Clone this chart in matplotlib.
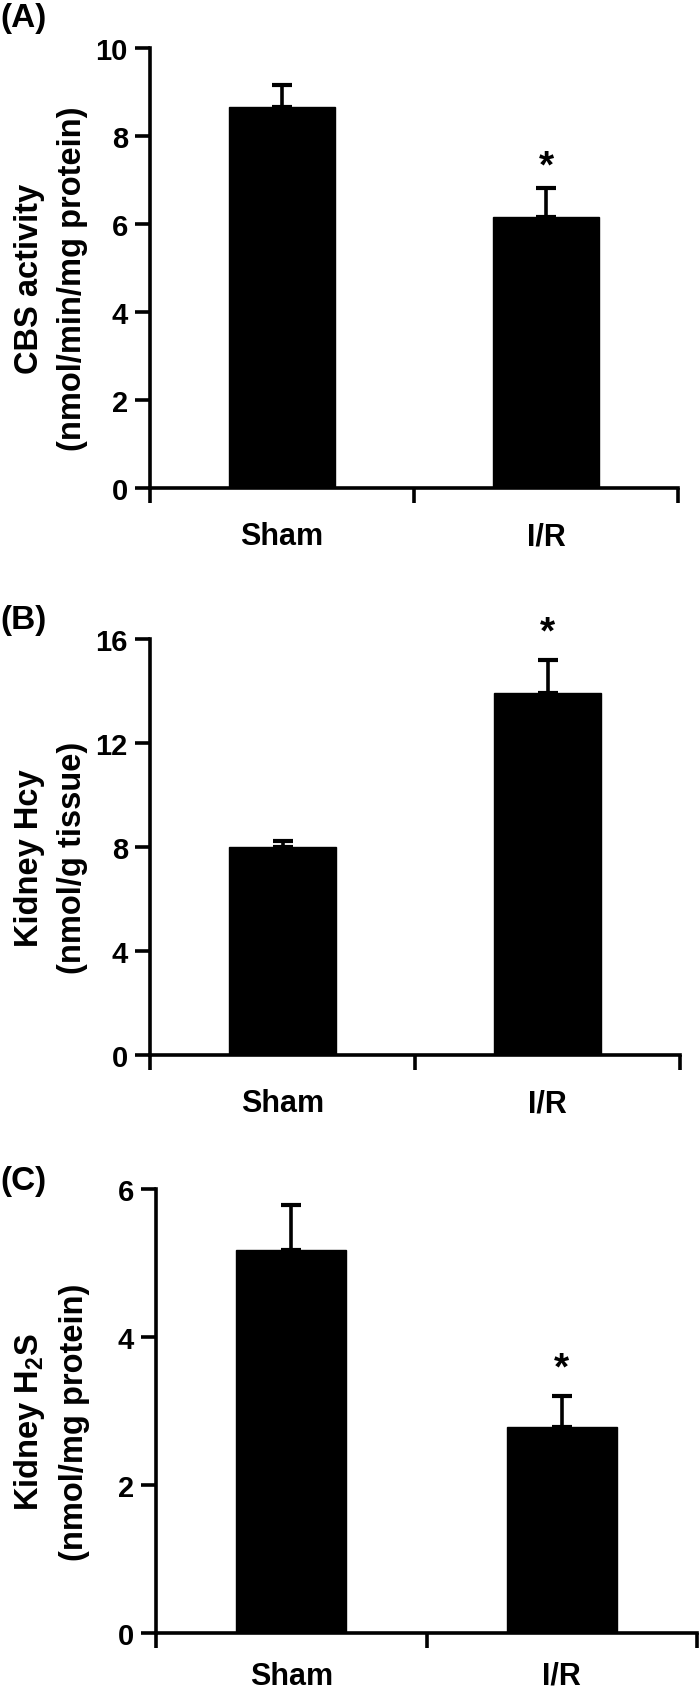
import matplotlib
matplotlib.use("Agg")
import matplotlib.pyplot as plt

plt.rcParams["font.family"] = ["Liberation Sans", "DejaVu Sans"]
plt.rcParams["font.weight"] = "bold"
plt.rcParams["mathtext.fontset"] = "custom"
plt.rcParams["mathtext.rm"] = "Liberation Sans:bold"
plt.rcParams["mathtext.it"] = "Liberation Sans:bold"
plt.rcParams["mathtext.bf"] = "Liberation Sans:bold"

groups = ["Sham", "I/R"]

cbs_mean = [8.66, 6.17]
cbs_sem = [0.50, 0.64]

hcy_mean = [8.01, 13.93]
hcy_sem = [0.24, 1.25]

h2s_mean = [5.18, 2.78]
h2s_sem = [0.61, 0.42]

panels = [
    # label, mean, sem, ymax, yticks, ylabel, star y
    ("(A)", cbs_mean, cbs_sem, 10, [0, 2, 4, 6, 8, 10],
     "CBS activity\n(nmol/min/mg protein)", 7.62),
    ("(B)", hcy_mean, hcy_sem, 16, [0, 4, 8, 12, 16],
     "Kidney Hcy\n(nmol/g tissue)", 16.77),
    ("(C)", h2s_mean, h2s_sem, 6, [0, 2, 4, 6],
     "Kidney H$_2$S\n(nmol/mg protein)", 3.76),
]

# axes boxes in pixels: left, right, y of top tick, y of zero
boxes = [(150, 678, 49, 489), (150, 680, 640, 1056), (156, 697, 1190, 1634)]
label_y = [18, 620, 1182]
xpad = [24, 24, 20]

W, H = 700, 1690
fig = plt.figure(figsize=(W / 100, H / 100), dpi=100)

for (plabel, mean, sem, ymax, yticks, ylabel, star_y), (l, r, t, b), ly, xp in zip(
        panels, boxes, label_y, xpad):
    ax = fig.add_axes([l / W, 1 - b / H, (r - l) / W, (b - t) / H])
    x = [0.5, 1.5]
    ax.bar(x, mean, width=0.405, color="black", edgecolor="black", linewidth=1)
    ax.errorbar(x, mean, yerr=[[0, 0], sem], fmt="none", ecolor="black",
                elinewidth=2.6, capsize=7, capthick=3)
    # asterisk: baseline shifted so the glyph is centred on star_y
    ax.annotate("*", xy=(1.5, star_y), xytext=(0, -0.6 * 28),
                textcoords="offset points", ha="center", va="baseline",
                fontsize=28, fontweight="bold", annotation_clip=False)

    ax.set_xlim(0, 2)
    ax.set_ylim(0, ymax)
    ax.set_yticks(yticks)
    ax.set_xticks([0, 1, 2])
    ax.set_xticklabels([])
    ax.set_xticks(x, minor=True)
    ax.set_xticklabels(groups, minor=True)
    ax.tick_params(axis="x", which="minor", length=0, pad=xp, labelsize=22)
    ax.tick_params(axis="both", which="major", direction="out", length=11,
                   width=2.6, labelsize=21, pad=5)
    for side in ["top", "right"]:
        ax.spines[side].set_visible(False)
    for side in ["left", "bottom"]:
        ax.spines[side].set_linewidth(2.6)

    fig.text(51 / W, 1 - ((t + b) / 2 + 10) / H, ylabel, rotation=90,
             ha="center", va="center", multialignment="center",
             fontsize=23.5, fontweight="bold", linespacing=1.5)
    fig.text(0, 1 - ly / H, plabel, ha="left", va="center", fontsize=24,
             fontweight="bold")

fig.savefig("out.png", dpi=100)
